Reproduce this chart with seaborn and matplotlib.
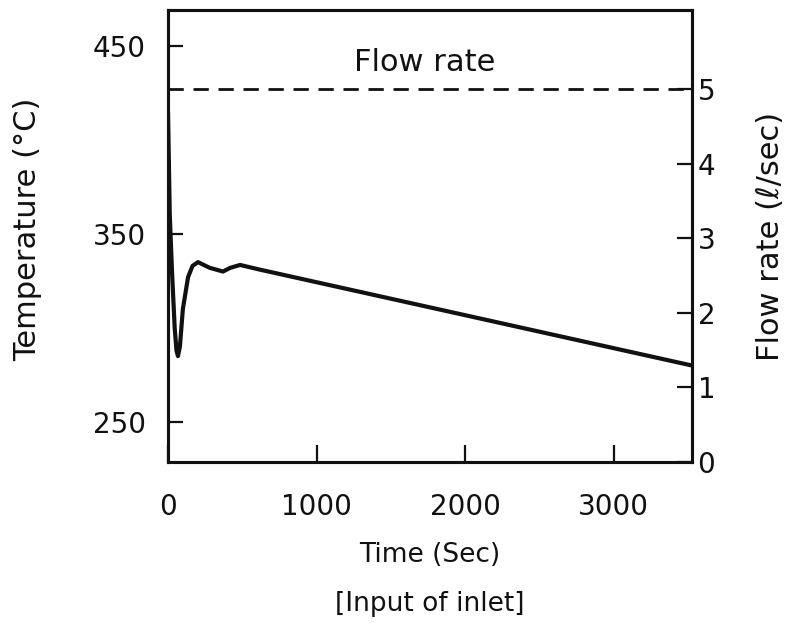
import matplotlib
matplotlib.use("Agg")
import matplotlib.pyplot as plt
import seaborn as sns
import pandas as pd

# Inlet temperature transient (time in s, temperature in °C)
time_s = [0, 12, 27, 45, 57, 67, 80, 100, 135, 165, 202, 280, 370, 420, 485, 619, 3527]
temperature_c = [415, 360, 330, 300, 288, 285, 290, 310, 327, 333, 335, 332, 330, 332, 333.5, 331, 280]

# Inlet flow rate (l/sec), held constant
flow_time_s = [0, 3527]
flow_rate = [5, 5]

temp_ticks = [250, 350, 450]
flow_ticks = [0, 1, 2, 3, 4, 5]
time_ticks = [0, 1000, 2000, 3000]

sns.set_style("ticks")
plt.rcParams["font.family"] = ["DejaVu Sans"]

ink = "#111111"

fig = plt.figure(figsize=(7.91, 6.36), dpi=100)
ax = fig.add_axes([168 / 791, 1 - 462 / 636, 524 / 791, 452 / 636])
ax2 = ax.twinx()

temp_df = pd.DataFrame({"time": time_s, "temp": temperature_c})
flow_df = pd.DataFrame({"time": flow_time_s, "flow": flow_rate})

sns.lineplot(data=temp_df, x="time", y="temp", ax=ax, color=ink,
             linewidth=3.0, sort=False, estimator=None)
sns.lineplot(data=flow_df, x="time", y="flow", ax=ax2, color=ink,
             linewidth=2.0, estimator=None, dashes=False)
ax2.lines[0].set_dashes((5.5, 3.5))
ax.lines[0].set_solid_joinstyle("round")

ax.set_xlim(0, 3527)
ax.set_ylim(228.7, 469.1)
ax2.set_ylim(0, 6.06)

ax.set_xticks(time_ticks)
ax.set_yticks(temp_ticks)
ax2.set_yticks(flow_ticks)

tick_fs = 20
ax.tick_params(axis="y", direction="in", length=11, width=1.6, pad=16,
               labelsize=tick_fs, colors=ink)
ax.tick_params(axis="x", direction="in", length=12, width=1.6, pad=22,
               labelsize=tick_fs, colors=ink)
ax2.tick_params(axis="y", direction="in", length=11, width=1.6, pad=4,
                labelsize=tick_fs, colors=ink)

for a in (ax, ax2):
    for side in ("left", "right", "bottom", "top"):
        a.spines[side].set_linewidth(2.2)
        a.spines[side].set_color(ink)
        a.spines[side].set_visible(True)

ax.set_xlabel("Time (Sec)", fontsize=19, color=ink)
ax.xaxis.set_label_coords(0.5, (462 - 555) / 452)
ax.xaxis.label.set_verticalalignment("center")

ax.set_ylabel("Temperature (°C)", fontsize=22, color=ink)
ax.yaxis.set_label_coords((28 - 168) / 524, (462 - 229) / 452)
ax.yaxis.label.set_verticalalignment("center")
ax.yaxis.label.set_horizontalalignment("center")

ax2.set_ylabel("Flow rate (ℓ/sec)", fontsize=22, color=ink)
ax2.yaxis.set_label_coords((770 - 168) / 524, (462 - 236) / 452)
ax2.yaxis.label.set_verticalalignment("center")
ax2.yaxis.label.set_horizontalalignment("center")

ax2.text(1730, 5.36, "Flow rate", fontsize=22, ha="center", va="center",
         color=ink)

fig.text(430 / 791, 1 - 604 / 636, "[Input of inlet]", fontsize=19,
         ha="center", va="center", color=ink)

fig.savefig("out.png", dpi=100, facecolor="white")
